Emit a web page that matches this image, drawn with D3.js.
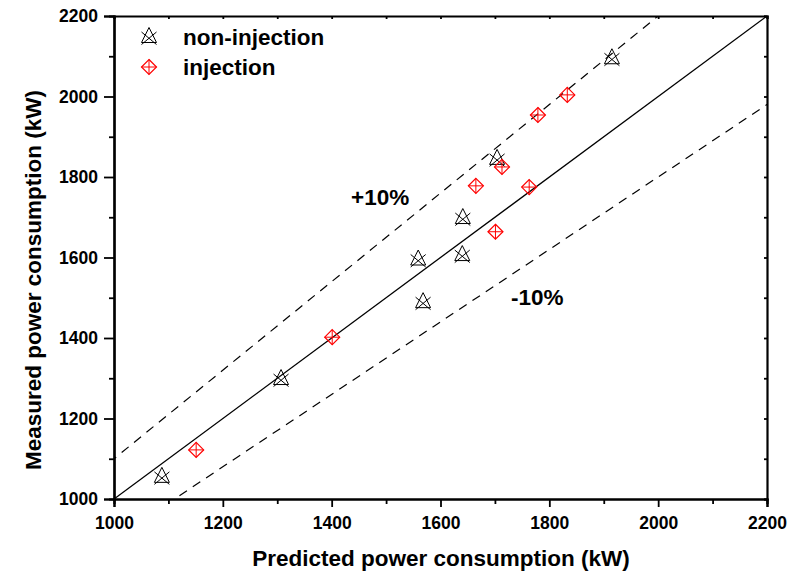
<!DOCTYPE html>
<html>
<head>
<meta charset="utf-8">
<script src="https://cdn.jsdelivr.net/npm/d3@7"></script>
<style>
  body { margin: 0; background: #fff; }
  text { font-family: "Liberation Sans", Arial, sans-serif; font-weight: bold; }
</style>
</head>
<body>
<script>
// non-injection points (predicted, measured)
let nonInjX = [1088, 1307, 1559, 1568, 1641, 1640, 1704, 1915];
let nonInjY = [1060, 1303, 1600, 1494, 1703, 1611, 1850, 2100];
// injection points
let injX = [1151, 1401, 1701, 1665, 1713, 1763, 1779, 1833];
let injY = [1122, 1402, 1664, 1778, 1825, 1775, 1954, 2004];
let majorTicks = [1000, 1200, 1400, 1600, 1800, 2000, 2200];
let minorTicks = [1100, 1300, 1500, 1700, 1900, 2100];
let bandRatios = [1.1, 0.9];

let width = 801, height = 577;
let margin = { left: 114, right: 34, top: 16, bottom: 78 };

let svg = d3.select("body").append("svg")
  .attr("width", width)
  .attr("height", height);

let x = d3.scaleLinear().domain([1000, 2200]).range([margin.left, width - margin.right]);
let y = d3.scaleLinear().domain([1000, 2200]).range([height - margin.bottom, margin.top]);

let plot = svg.append("g");

// clip for reference lines
svg.append("clipPath").attr("id", "clip")
  .append("rect")
  .attr("x", x(1000)).attr("y", y(2200))
  .attr("width", x(2200) - x(1000)).attr("height", y(1000) - y(2200));

let lines = plot.append("g").attr("clip-path", "url(#clip)");
let line = d3.line().x((d) => x(d[0])).y((d) => y(d[1]));

lines.append("path")
  .attr("d", line([[1000, 1000], [2200, 2200]]))
  .attr("stroke", "#000").attr("stroke-width", 1.3).attr("fill", "none");

lines.selectAll(".band")
  .data(bandRatios)
  .enter()
  .append("path")
  .attr("class", "band")
  .attr("d", (r) => line([[900, 900 * r], [2300, 2300 * r]]))
  .attr("stroke", "#000").attr("stroke-width", 1.2)
  .attr("stroke-dasharray", "9,7").attr("fill", "none");

// axes
let bottomAxis = svg.append("g").attr("transform", `translate(0,${y(1000)})`);
bottomAxis.call(d3.axisBottom(x).tickValues(minorTicks).tickSize(5).tickFormat(""));
bottomAxis.append("g").call(d3.axisBottom(x).tickValues(majorTicks).tickSize(8).tickPadding(10).tickFormat(d3.format("d")));

let leftAxis = svg.append("g").attr("transform", `translate(${x(1000)},0)`);
leftAxis.call(d3.axisLeft(y).tickValues(minorTicks).tickSize(5).tickFormat(""));
leftAxis.append("g").call(d3.axisLeft(y).tickValues(majorTicks).tickSize(10).tickPadding(6).tickFormat(d3.format("d")));

let topAxis = svg.append("g").attr("transform", `translate(0,${y(2200)})`);
topAxis.call(d3.axisBottom(x).tickValues(majorTicks.concat(minorTicks)).tickSize(3).tickFormat(""));
let rightAxis = svg.append("g").attr("transform", `translate(${x(2200)},0)`);
rightAxis.call(d3.axisLeft(y).tickValues(majorTicks.concat(minorTicks)).tickSize(3).tickFormat(""));

svg.selectAll(".domain").attr("stroke-width", 2.2);
svg.selectAll(".tick line").attr("stroke-width", 1.8);
svg.selectAll(".tick text")
  .attr("font-size", "17.5px")
  .attr("font-family", "'Liberation Sans', Arial, sans-serif")
  .attr("font-weight", "bold")
  .attr("fill", "#000");

// markers
function drawNonInj(g) {
  let s = 7.5;
  g.append("path")
    .attr("d", `M0,${-s}L${s},${s}L${-s},${s}Z`)
    .attr("fill", "none").attr("stroke", "#000").attr("stroke-width", 1);
  g.append("path")
    .attr("d", `M${-s},${-s * 0.4}L${s},${s + 2}M${s},${-s * 0.4}L${-s},${s + 2}`)
    .attr("fill", "none").attr("stroke", "#000").attr("stroke-width", 1);
}
function drawInj(g) {
  let s = 7.5;
  g.append("path")
    .attr("d", `M0,${-s}L${s},0L0,${s}L${-s},0Z`)
    .attr("fill", "none").attr("stroke", "#ff0000").attr("stroke-width", 1.2);
  g.append("path")
    .attr("d", `M0,${-s}L0,${s}M${-s},0L${s},0`)
    .attr("fill", "none").attr("stroke", "#ff0000").attr("stroke-width", 1);
}

plot.selectAll(".nonInj")
  .data(d3.range(nonInjX.length))
  .enter()
  .append("g")
  .attr("class", "nonInj")
  .attr("transform", (i) => `translate(${x(nonInjX[i])},${y(nonInjY[i])})`)
  .each(function () { drawNonInj(d3.select(this)); });

plot.selectAll(".inj")
  .data(d3.range(injX.length))
  .enter()
  .append("g")
  .attr("class", "inj")
  .attr("transform", (i) => `translate(${x(injX[i])},${y(injY[i])})`)
  .each(function () { drawInj(d3.select(this)); });

// legend
let legend = svg.append("g");
drawNonInj(legend.append("g").attr("transform", "translate(149,35)"));
drawInj(legend.append("g").attr("transform", "translate(149,67)"));
legend.append("text").attr("x", 183).attr("y", 45).attr("font-size", "22.5px").text("non-injection");
legend.append("text").attr("x", 183).attr("y", 75).attr("font-size", "22.5px").text("injection");

// band labels
svg.append("text").attr("x", 351).attr("y", 205).attr("font-size", "22.5px").text("+10%");
svg.append("text").attr("x", 511).attr("y", 305).attr("font-size", "22.5px").text("-10%");

// axis titles
svg.append("text")
  .attr("x", 441).attr("y", 566)
  .attr("text-anchor", "middle").attr("font-size", "22.5px")
  .text("Predicted power consumption (kW)");
svg.append("text")
  .attr("transform", `translate(41,280) rotate(-90)`)
  .attr("text-anchor", "middle").attr("font-size", "22.5px")
  .text("Measured power consumption (kW)");
</script>
</body>
</html>
